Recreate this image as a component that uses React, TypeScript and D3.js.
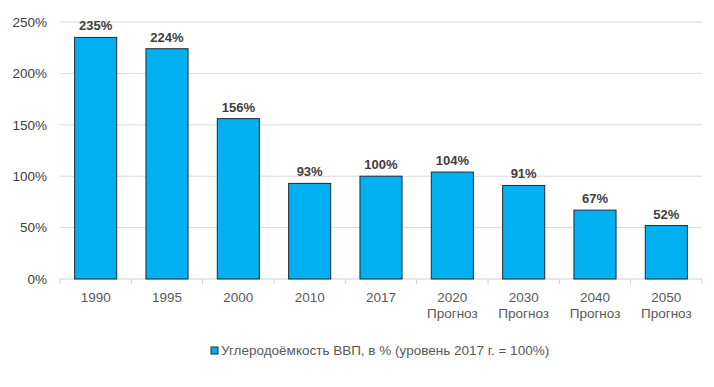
import React from "react";
import * as d3 from "d3";

const categories = ["1990", "1995", "2000", "2010", "2017", "2020", "2030", "2040", "2050"];
const subLabels = ["", "", "", "", "", "Прогноз", "Прогноз", "Прогноз", "Прогноз"];
const values = [235, 224, 156, 93, 100, 104, 91, 67, 52];
const yTicks = [0, 50, 100, 150, 200, 250];
const legendLabel = "Углеродоёмкость ВВП, в % (уровень 2017 г. = 100%)";

export default function App() {
  const W = 714, H = 387;
  const left = 60, right = 702, top = 22, bottom = 279;
  const x = d3.scaleBand<string>().domain(categories).range([left, right]).paddingInner(0.41).paddingOuter(0.205);
  const y = d3.scaleLinear().domain([0, 250]).range([bottom, top]);
  const step = x.step();
  const font = "'Liberation Sans', Arial, sans-serif";
  return (
    <svg width={W} height={H} style={{ position: "absolute", left: 0, top: 0, background: "#fff" }} fontFamily={font}>
      {yTicks.map((t) => (
        <g key={t}>
          {t > 0 && <line x1={left} x2={right} y1={y(t)} y2={y(t)} stroke="#d9d9d9" strokeWidth={1} />}
          <text x={47} y={y(t)} dy="0.35em" textAnchor="end" fontSize={13.5} fill="#404040">{t}%</text>
        </g>
      ))}
      <line x1={left} x2={right} y1={bottom} y2={bottom} stroke="#d0d0d0" strokeWidth={1} />
      {d3.range(categories.length + 1).map((i) => (
        <line key={i} x1={left + i * step} x2={left + i * step} y1={bottom} y2={bottom + 5} stroke="#d0d0d0" />
      ))}
      {categories.map((c, i) => (
        <g key={c}>
          <rect x={x(c)!} y={y(values[i])} width={x.bandwidth()} height={bottom - y(values[i])} fill="#00B0F0" stroke="#1f2a33" strokeWidth={1} />
          <text x={x(c)! + x.bandwidth() / 2} y={y(values[i]) - 7} textAnchor="middle" fontSize={13} fontWeight="bold" fill="#404040">{values[i]}%</text>
          <text x={x(c)! + x.bandwidth() / 2} y={302} textAnchor="middle" fontSize={13.5} fill="#595959">{c}</text>
          {subLabels[i] && (
            <text x={x(c)! + x.bandwidth() / 2} y={318} textAnchor="middle" fontSize={13.5} fill="#595959">{subLabels[i]}</text>
          )}
        </g>
      ))}
      <rect x={211} y={347} width={7} height={7} fill="#00B0F0" stroke="#1f2a33" strokeWidth={1} />
      <text x={221} y={355} fontSize={13.5} fill="#595959">{legendLabel}</text>
    </svg>
  );
}
